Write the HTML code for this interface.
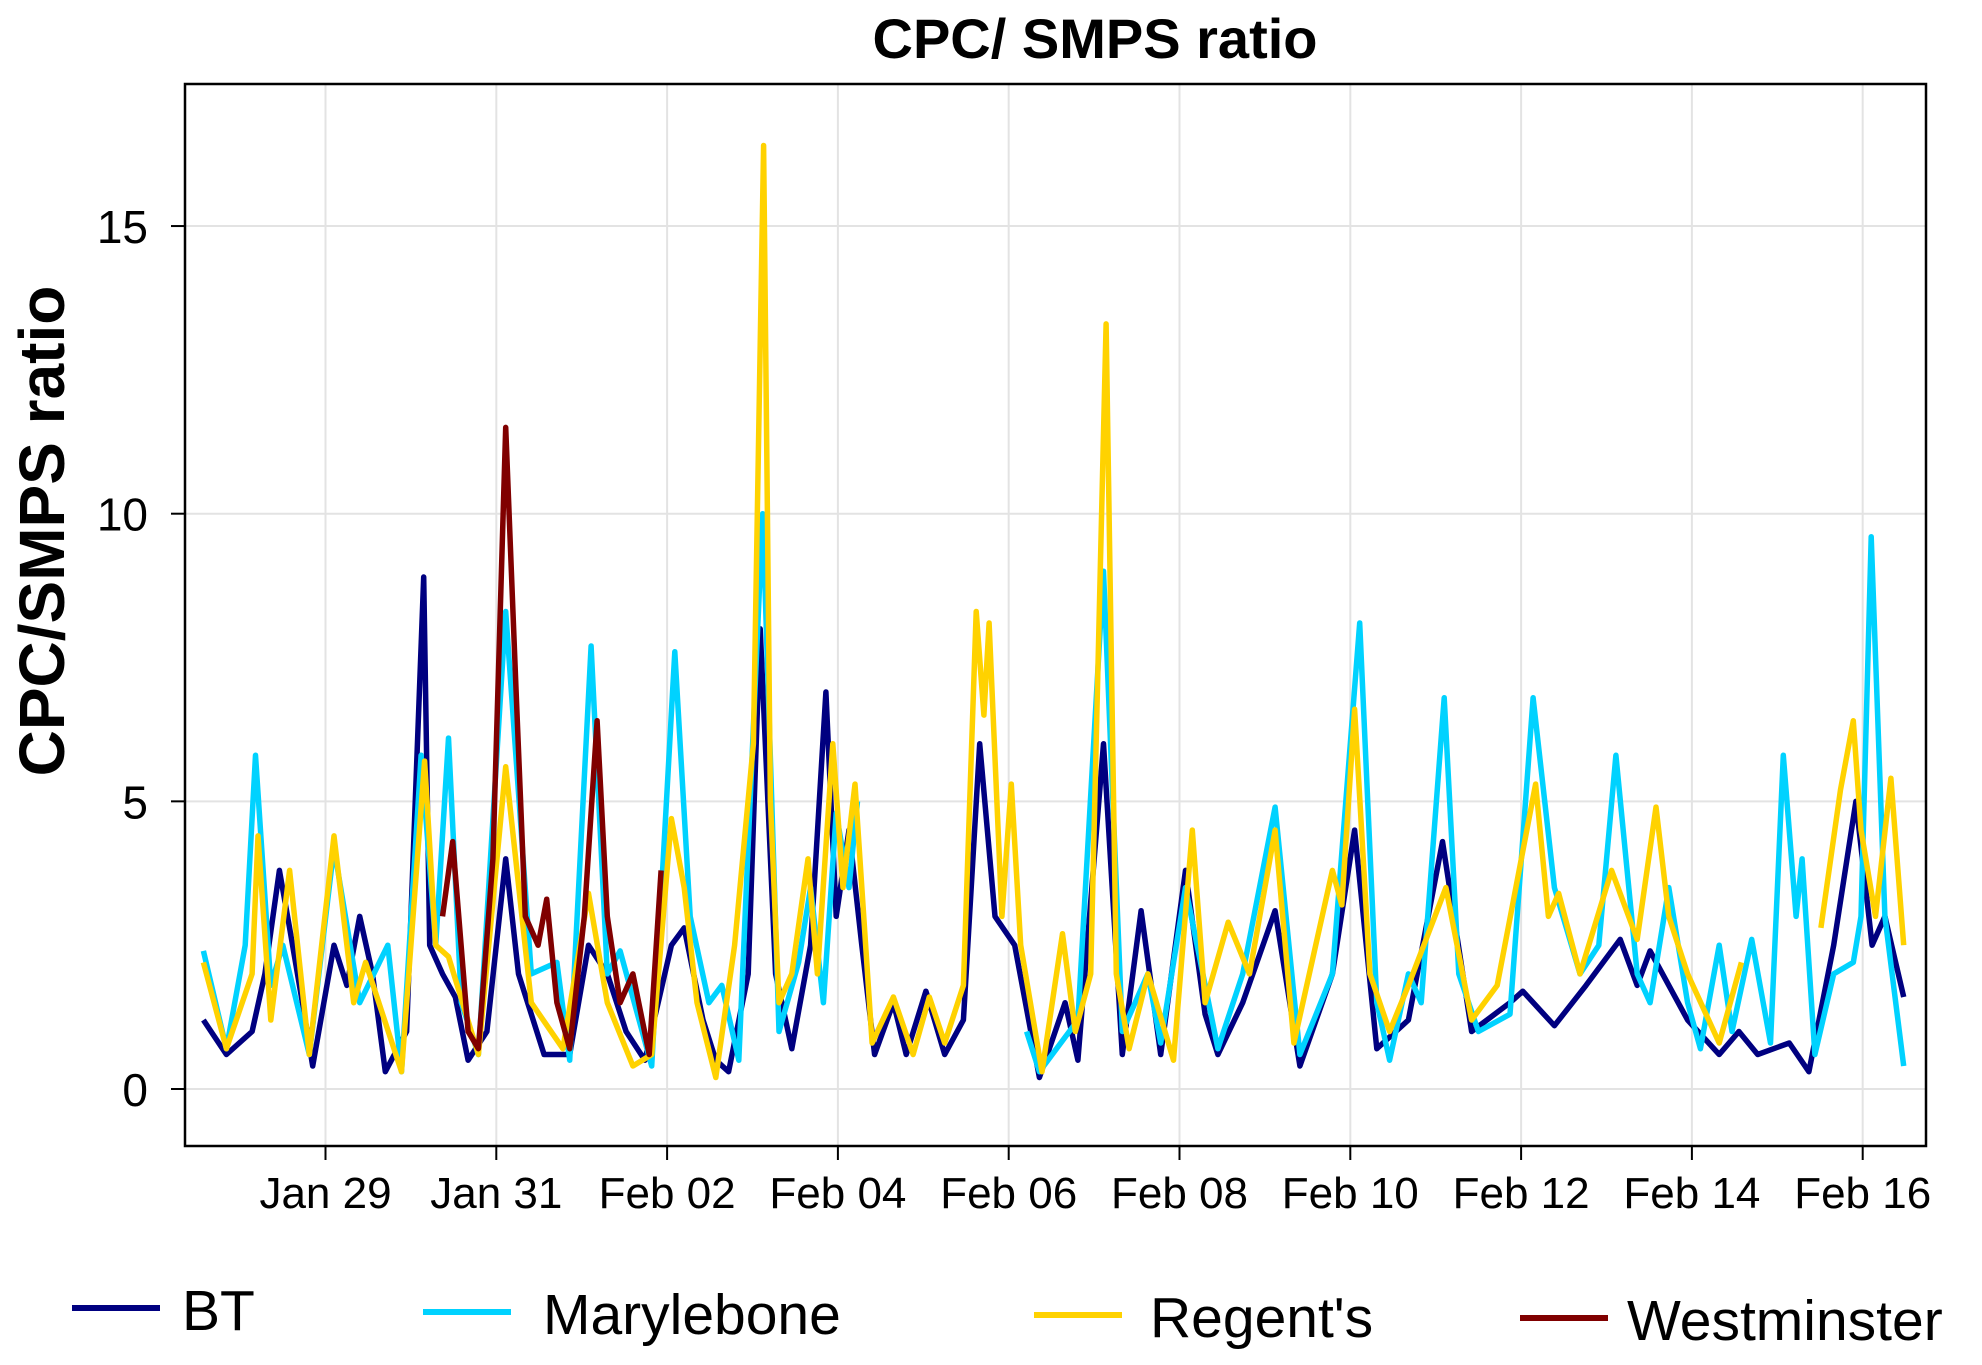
<!DOCTYPE html>
<html><head><meta charset="utf-8"><style>
html,body{margin:0;padding:0;background:#fff;}
svg{display:block;font-family:"Liberation Sans",Arial,sans-serif;}
</style></head><body>
<svg id="chart" width="1982" height="1365" viewBox="0 0 1982 1365" xmlns="http://www.w3.org/2000/svg">
<rect width="1982" height="1365" fill="#fff"/>
<text x="1095" y="58" font-size="56" font-weight="bold" text-anchor="middle">CPC/ SMPS ratio</text>
<text transform="translate(64,531) rotate(-90)" font-size="64" font-weight="bold" text-anchor="middle">CPC/SMPS ratio</text>
<g id="grid"></g>
<g id="series"></g>
<rect x="185" y="84" width="1741" height="1062" fill="none" stroke="#000" stroke-width="2.5"/>
<g id="axes"></g>
<g id="legend"></g>
</svg>
<script>
const xTickDays=[2,4,6,8,10,12,14,16,18,20];
const xTickLabels=["Jan 29","Jan 31","Feb 02","Feb 04","Feb 06","Feb 08","Feb 10","Feb 12","Feb 14","Feb 16"];
const yTicks=[0,5,10,15];
const seriesNames=["BT","Marylebone","Regent's","Westminster"];
const seriesColors=["#000080","#00D2FF","#FFD200","#800000"];
// days since Jan 27 00:00 ; null = gap
const btDays=[0.57,0.84,1.14,1.29,1.46,1.58,1.73,1.85,2.10,2.25,2.40,2.55,2.70,2.95,3.15,3.22,3.37,3.52,3.67,3.89,4.11,4.26,4.56,4.86,5.08,5.30,5.52,5.74,6.05,6.20,6.42,6.57,6.72,6.95,7.09,7.27,7.46,7.68,7.86,7.98,8.13,8.28,8.43,8.65,8.80,9.03,9.25,9.47,9.66,9.84,10.07,10.36,10.66,10.81,11.11,11.33,11.55,11.78,12.07,12.30,12.45,12.74,13.12,13.41,13.79,14.05,14.31,14.68,15.08,15.42,15.87,16.02,16.39,16.76,17.16,17.36,17.51,17.95,18.32,18.55,18.77,19.14,19.37,19.66,19.92,20.11,20.26,20.48];
const btValues=[1.2,0.6,1.0,2.0,3.8,2.8,1.5,0.4,2.5,1.8,3.0,2.0,0.3,1.0,8.9,2.5,2.0,1.6,0.5,1.0,4.0,2.0,0.6,0.6,2.5,2.0,1.0,0.5,2.5,2.8,1.2,0.5,0.3,2.0,8.0,2.0,0.7,2.5,6.9,3.0,4.5,2.5,0.6,1.5,0.6,1.7,0.6,1.2,6.0,3.0,2.5,0.2,1.5,0.5,6.0,0.6,3.1,0.6,3.8,1.3,0.6,1.5,3.1,0.4,2.0,4.5,0.7,1.2,4.3,1.0,1.5,1.7,1.1,1.8,2.6,1.8,2.4,1.2,0.6,1.0,0.6,0.8,0.3,2.5,5.0,2.5,3.0,1.6];
const maryDays=[0.57,0.84,1.06,1.18,1.36,1.50,1.81,2.10,2.40,2.73,2.89,3.12,3.29,3.44,3.59,3.79,4.11,4.41,4.71,4.86,5.11,5.30,5.45,5.82,6.09,6.27,6.49,6.64,6.84,7.12,7.31,7.54,7.68,7.83,7.98,8.13,8.23,null,10.21,10.36,10.81,11.11,11.33,11.63,11.78,12.07,12.45,12.74,13.12,13.41,13.79,14.11,14.31,14.46,14.68,14.83,15.10,15.27,15.50,15.87,16.14,16.39,16.69,16.91,17.11,17.36,17.51,17.73,17.95,18.10,18.32,18.47,18.70,18.92,19.07,19.22,19.29,19.44,19.66,19.89,19.98,20.10,20.26,20.48];
const maryValues=[2.4,0.7,2.5,5.8,1.8,2.5,0.6,4.2,1.5,2.5,0.3,5.8,2.5,6.1,1.5,0.6,8.3,2.0,2.2,0.5,7.7,2.0,2.4,0.4,7.6,3.0,1.5,1.8,0.5,10.0,1.0,2.2,3.5,1.5,4.8,3.5,5.0,null,1.0,0.3,1.2,9.0,1.0,2.0,0.8,3.5,0.7,2.0,4.9,0.6,2.0,8.1,1.5,0.5,2.0,1.5,6.8,2.0,1.0,1.3,6.8,3.5,2.0,2.5,5.8,2.0,1.5,3.5,1.5,0.7,2.5,1.0,2.6,0.8,5.8,3.0,4.0,0.6,2.0,2.2,3.0,9.6,3.0,0.4];
const regDays=[0.57,0.84,1.14,1.21,1.36,1.58,1.81,2.10,2.33,2.47,2.89,3.16,3.29,3.44,3.79,4.11,4.41,4.78,5.08,5.30,5.60,5.82,6.05,6.20,6.35,6.57,6.79,7.01,7.13,7.21,7.31,7.46,7.65,7.76,7.94,8.06,8.20,8.40,8.65,8.88,9.07,9.25,9.47,9.62,9.71,9.77,9.92,10.03,10.14,10.39,10.63,10.78,10.96,11.14,11.26,11.41,11.63,11.93,12.15,12.30,12.57,12.82,13.12,13.34,13.79,13.90,14.05,14.23,14.46,14.68,15.12,15.42,15.72,16.17,16.32,16.44,16.69,17.06,17.36,17.58,17.73,17.95,18.32,18.58,null,19.51,19.74,19.89,19.98,20.15,20.33,20.48];
const regValues=[2.2,0.7,2.0,4.4,1.2,3.8,0.6,4.4,1.5,2.2,0.3,5.7,2.5,2.3,0.6,5.6,1.5,0.7,3.4,1.5,0.4,0.6,4.7,3.5,1.5,0.2,2.5,6.0,16.4,5.0,1.5,2.0,4.0,2.0,6.0,3.5,5.3,0.8,1.6,0.6,1.6,0.8,1.8,8.3,6.5,8.1,3.0,5.3,2.5,0.3,2.7,1.0,2.0,13.3,2.0,0.7,2.0,0.5,4.5,1.5,2.9,2.0,4.5,0.8,3.8,3.2,6.6,2.0,1.0,1.8,3.5,1.2,1.8,5.3,3.0,3.4,2.0,3.8,2.6,4.9,3.0,2.0,0.8,2.2,null,2.8,5.2,6.4,4.5,3.0,5.4,2.5];
const wesDays=[3.37,3.49,3.67,3.79,3.96,4.11,4.23,4.34,4.49,4.59,4.71,4.86,5.03,5.18,5.30,5.45,5.60,5.79,5.93];
const wesValues=[3.0,4.3,1.0,0.7,4.0,11.5,7.0,3.0,2.5,3.3,1.5,0.7,3.0,6.4,3.0,1.5,2.0,0.6,3.8];

const NS="http://www.w3.org/2000/svg";
const L=185,R=1926,T=84,B=1146;
function xS(d){return 325.5+(d-2)*85.4;}
function yS(v){return 1089-57.53*v;}
function mk(tag,attrs,parent){const e=document.createElementNS(NS,tag);for(const k in attrs)e.setAttribute(k,attrs[k]);parent.appendChild(e);return e;}
const grid=document.getElementById('grid'),axes=document.getElementById('axes'),series=document.getElementById('series'),legend=document.getElementById('legend');
xTickDays.forEach((d,i)=>{
  const g=mk('line',{x1:xS(d),x2:xS(d),y1:T,y2:B,stroke:'#e3e3e3','stroke-width':2},grid);
  
  
  const t=mk('line',{x1:xS(d),x2:xS(d),y1:B,y2:B+14,stroke:'#000','stroke-width':2},axes);
  
  
  const lb=mk('text',{x:xS(d),y:1208,'font-size':44,'text-anchor':'middle'},axes);
  lb.textContent=xTickLabels[i];
  
  
});
yTicks.forEach(v=>{
  const g=mk('line',{x1:L,x2:R,y1:yS(v),y2:yS(v),stroke:'#e3e3e3','stroke-width':2},grid);
  
  
  const t=mk('line',{x1:L-14,x2:L,y1:yS(v),y2:yS(v),stroke:'#000','stroke-width':2},axes);
  
  
  const lb=mk('text',{x:148,y:yS(v)+17,'font-size':46,'text-anchor':'end'},axes);
  lb.textContent=String(v);
  
  
});
function pathFor(days,vals){let d='',pen=false;for(let i=0;i<days.length;i++){if(days[i]===null||vals[i]===null){pen=false;continue;}d+=(pen?'L':'M')+xS(days[i]).toFixed(1)+','+yS(vals[i]).toFixed(1);pen=true;}return d;}
const allDays=[btDays,maryDays,regDays,wesDays],allVals=[btValues,maryValues,regValues,wesValues];
for(let s=0;s<4;s++){
  const p=mk('path',{d:pathFor(allDays[s],allVals[s]),fill:'none',stroke:seriesColors[s],'stroke-width':5.5,'stroke-linejoin':'round'},series);
  
  
}
const legLineX=[72,423,1034,1520],legTextX=[182,543,1150,1627],legY=[1308,1312,1315,1318];
for(let s=0;s<4;s++){
  const ln=mk('line',{x1:legLineX[s],x2:legLineX[s]+88,y1:legY[s],y2:legY[s],stroke:seriesColors[s],'stroke-width':6},legend);
  
  
  const tx=mk('text',{x:legTextX[s],y:legY[s]+22,'font-size':57},legend);
  tx.textContent=seriesNames[s];
  
  
}
</script>
</body></html>
